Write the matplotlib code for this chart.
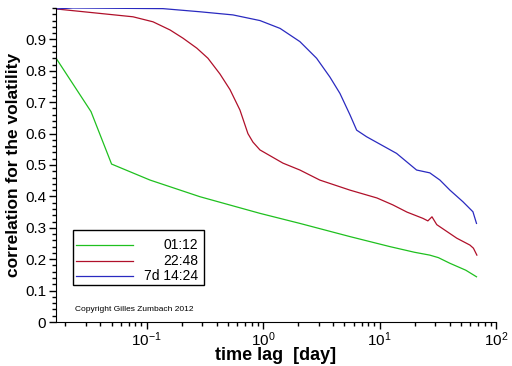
"""Volatility correlation versus time lag for three return horizons."""

import matplotlib

matplotlib.use("Agg")
import matplotlib.pyplot as plt
from matplotlib.patches import Rectangle
from matplotlib.ticker import LogLocator, MultipleLocator

plt.rcParams["font.family"] = ["Liberation Sans", "DejaVu Sans"]
plt.rcParams["mathtext.fontset"] = "custom"
plt.rcParams["mathtext.rm"] = "Liberation Sans"
plt.rcParams["mathtext.it"] = "Liberation Sans:italic"
plt.rcParams["mathtext.bf"] = "Liberation Sans:bold"

# time lag in days, correlation values
lag_green = [0.0167, 0.0333, 0.05, 0.107, 0.287, 0.94, 2.07, 5.57, 12.3, 20.0, 27.0, 32.0, 40.2, 55.0, 68.0]
corr_green = [0.84, 0.67, 0.503, 0.452, 0.399, 0.346, 0.314, 0.272, 0.240, 0.222, 0.213, 0.205, 0.187, 0.165, 0.144]

lag_red = [0.0167, 0.0764, 0.1135, 0.159, 0.205, 0.270, 0.336, 0.426, 0.52, 0.633, 0.741, 0.818,
           0.94, 1.48, 2.07, 3.07, 5.57, 9.5, 13.0, 17.2, 23.6, 26.0, 28.2, 31.0, 46.0, 59.7, 64.0, 68.5]
corr_red = [0.997, 0.972, 0.956, 0.93, 0.904, 0.872, 0.84, 0.79, 0.74, 0.675, 0.60, 0.573,
            0.548, 0.506, 0.484, 0.452, 0.42, 0.395, 0.373, 0.35, 0.33, 0.322, 0.335, 0.31, 0.267, 0.245, 0.235, 0.213]

lag_blue = [0.0167, 0.0233, 0.138, 0.287, 0.551, 0.94, 1.40, 2.07, 2.88, 3.75, 4.57, 5.57, 6.36,
            7.74, 14.0, 20.8, 27.0, 33.0, 40.2, 52.0, 63.4, 68.0]
corr_blue = [0.997, 1.0, 0.998, 0.988, 0.978, 0.96, 0.935, 0.893, 0.84, 0.78, 0.728, 0.66, 0.611,
             0.59, 0.537, 0.484, 0.475, 0.452, 0.42, 0.383, 0.351, 0.314]

series_labels = ["01:12", "22:48", "7d 14:24"]
series_colors = ["#1fc01f", "#b0102a", "#2a2ac0"]

fig = plt.figure(figsize=(5.12, 3.66), dpi=100)
ax = fig.add_axes([56 / 512, 1 - 322 / 366, 440 / 512, 314 / 366])

series = [(lag_green, corr_green), (lag_red, corr_red), (lag_blue, corr_blue)]
for (lag, corr), color in zip(series, series_colors):
    ax.plot(lag, corr, color=color, lw=0.9)

ax.set_xscale("log")
ax.set_xlim(1 / 60, 100)
ax.set_ylim(0, 1.0)
ax.yaxis.set_minor_locator(MultipleLocator(0.02))
ax.set_yticks([0.1 * i for i in range(10)])
ax.set_yticklabels(["0"] + [f"{0.1 * i:.1f}" for i in range(1, 10)])
ax.xaxis.set_major_locator(LogLocator(base=10, numticks=10))
ax.xaxis.set_minor_locator(LogLocator(base=10, subs=range(2, 10), numticks=20))

for side in ["top", "right"]:
    ax.spines[side].set_visible(False)
ax.tick_params(axis="both", which="major", length=5, width=1, direction="out", labelsize=11, pad=2)
ax.tick_params(axis="x", which="major", pad=1)
ax.tick_params(axis="both", which="minor", length=3, width=1, direction="out")

ax.set_xlabel("time lag  [day]", fontsize=13, fontweight="bold")
ax.xaxis.set_label_coords(0.5, -0.081)
ax.set_ylabel("correlation for the volatility", fontsize=12.5, fontweight="bold", labelpad=3)

# legend box drawn by hand: lines on the left, labels right-aligned
ax.add_patch(Rectangle((0.038, 0.118), 0.298, 0.175, transform=ax.transAxes,
                       facecolor="white", edgecolor="black", lw=1, zorder=5))
for i, (label, color) in enumerate(zip(series_labels, series_colors)):
    y = 0.245 - i * 0.05
    ax.plot([0.045, 0.174], [y, y], color=color, lw=0.9, transform=ax.transAxes, zorder=6)
    ax.text(0.323, y, label, transform=ax.transAxes, ha="right", va="center", fontsize=10, zorder=6)

ax.text(0.043, 0.041, "Copyright Gilles Zumbach 2012", transform=ax.transAxes,
        ha="left", va="center", fontsize=6)

fig.savefig("out.png", dpi=100)
